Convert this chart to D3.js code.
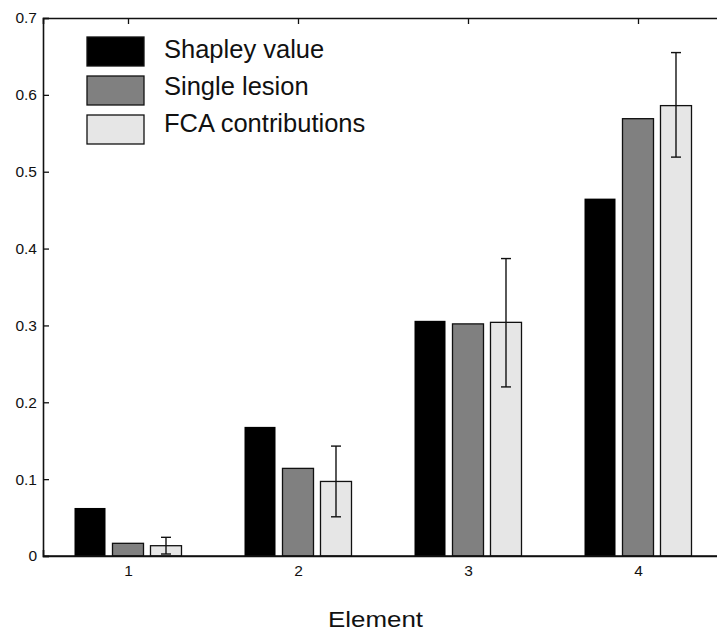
<!DOCTYPE html>
<html>
<head>
<meta charset="utf-8">
<script src="https://cdn.jsdelivr.net/npm/d3@7"></script>
<style>
  body { margin: 0; background: white; }
  svg { display: block; font-family: "Liberation Sans", Arial, sans-serif; }
</style>
</head>
<body>
<div id="vis"></div>
<script>
// data
const elements = [1, 2, 3, 4];
const seriesNames = ["Shapley value", "Single lesion", "FCA contributions"];
const shapley = [0.0625, 0.168, 0.306, 0.465];
const singleLesion = [0.0165, 0.114, 0.302, 0.569];
const fca = [0.0134, 0.097, 0.304, 0.586];
const fcaLow = [0.0026, 0.051, 0.22, 0.519];
const fcaHigh = [0.0243, 0.143, 0.387, 0.655];
const yTicks = [0, 0.1, 0.2, 0.3, 0.4, 0.5, 0.6, 0.7];
const fills = ["#000000", "#808080", "#e6e6e6"];

const W = 717, H = 631;
const plotLeft = 43, plotTop = 18, plotBottom = 556;

let svg = d3.select("#vis").append("svg")
  .attr("width", W)
  .attr("height", H);

// x is continuous so the figure's right edge can run off the page like the original
let x = d3.scaleLinear().domain([0.5, 4.5]).range([plotLeft, plotLeft + 680]);
let y = d3.scaleLinear().domain([0, 0.7]).range([plotBottom, plotTop]);

const barOffset = 0.2235; // in element units
const barWidth = x(0.1824) - x(0);

// axes (matlab style, ticks inward)
svg.append("g")
  .attr("transform", `translate(${plotLeft},0)`)
  .call(d3.axisLeft(y).tickValues(yTicks).tickSize(-6).tickPadding(6)
    .tickFormat(d => d === 0 ? "0" : d3.format(".1f")(d)));

svg.append("g")
  .attr("transform", `translate(0,${plotBottom})`)
  .call(d3.axisBottom(x).tickValues(elements).tickSize(-6).tickPadding(9)
    .tickFormat(d3.format("d")));

svg.append("g")
  .attr("transform", `translate(0,${plotTop})`)
  .call(d3.axisTop(x).tickValues(elements).tickSize(-6).tickFormat(""));

svg.selectAll(".domain").attr("stroke", "#111").attr("stroke-width", 1.6);
svg.selectAll(".tick line").attr("stroke", "#111").attr("stroke-width", 1.3);
svg.selectAll(".tick text").attr("font-size", 15.5).attr("fill", "#111")
  .attr("font-family", "Liberation Sans, Arial, sans-serif");

// bars
const series = [shapley, singleLesion, fca];
series.forEach((vals, s) => {
  svg.append("g").selectAll("rect")
    .data(vals)
    .join("rect")
    .attr("x", (d, i) => x(elements[i] + (s - 1) * barOffset) - barWidth / 2)
    .attr("y", d => y(d))
    .attr("width", barWidth)
    .attr("height", d => y(0) - y(d))
    .attr("fill", fills[s])
    .attr("stroke", "#111")
    .attr("stroke-width", s === 0 ? 0 : 1.3);
});

// error bars on the FCA bars
let err = svg.append("g").attr("stroke", "#111").attr("stroke-width", 1.4);
elements.forEach((e, i) => {
  const cx = x(e + barOffset);
  err.append("line").attr("x1", cx).attr("x2", cx)
    .attr("y1", y(fcaLow[i])).attr("y2", y(fcaHigh[i]));
  [fcaLow[i], fcaHigh[i]].forEach(v => {
    err.append("line").attr("x1", cx - 5).attr("x2", cx + 5)
      .attr("y1", y(v)).attr("y2", y(v));
  });
});

// redraw baseline over bar bottoms
svg.append("line")
  .attr("x1", plotLeft).attr("x2", W)
  .attr("y1", plotBottom).attr("y2", plotBottom)
  .attr("stroke", "#111").attr("stroke-width", 1.6);

// x label (original glyphs are a bit wider than Liberation Sans)
svg.append("text")
  .attr("x", 328)
  .attr("y", 627)
  .attr("font-size", 21.5)
  .attr("textLength", 95)
  .attr("lengthAdjust", "spacingAndGlyphs")
  .attr("fill", "#111")
  .text("Element");

// legend
let legend = svg.append("g");
seriesNames.forEach((name, i) => {
  const ly = 37 + i * 39;
  legend.append("rect")
    .attr("x", 87).attr("y", ly)
    .attr("width", 57).attr("height", 29)
    .attr("fill", fills[i])
    .attr("stroke", "#111").attr("stroke-width", 1.3);
  legend.append("text")
    .attr("x", 164).attr("y", 57.5 + i * 37)
    .attr("font-size", 25.5)
    .attr("fill", "#111")
    .text(name);
});
</script>
</body>
</html>
